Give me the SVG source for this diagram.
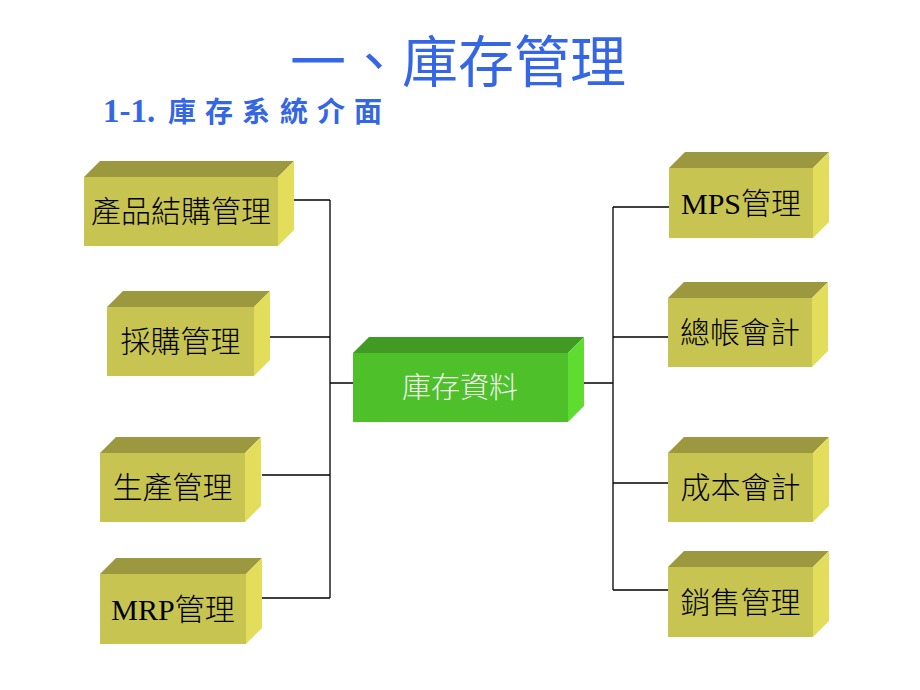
<svg xmlns="http://www.w3.org/2000/svg" width="920" height="690" viewBox="0 0 920 690">
<style>
.front{fill:#C8C452}
.top{fill:#9C983F}
.side{fill:#E2DE5C}
.gfront{fill:#4DC02A}
.gtop{fill:#409A24}
.gside{fill:#5EDC30}
.lbl{font-family:"Liberation Serif","Noto Sans CJK TC",serif;font-size:30px;font-weight:300;fill:#000;text-anchor:middle}
.clbl{font-family:"Noto Sans CJK TC","Liberation Sans",sans-serif;font-size:29px;font-weight:300;fill:#F2F4EE;text-anchor:middle}
.conn{stroke:#000;stroke-width:1.3;fill:none}
</style>
<rect width="920" height="690" fill="#fff"/>
<text x="290" y="82" font-family="'Noto Sans CJK TC','Liberation Sans',sans-serif" font-size="56" fill="#3566E4">一、庫存管理</text>
<text y="122" fill="#3566E4" font-weight="bold"><tspan x="103" font-family="'Liberation Serif',serif" font-size="33">1-1.</tspan><tspan x="168 205 242 280 317 354" font-family="'Noto Sans CJK TC',sans-serif" font-size="28">庫存系統介面</tspan></text>
<g id="connectors" class="conn">
<path d="M286 200H330M268 337H330M262 475H330M262 598H330M330 200V598M330 383H353"/>
<path d="M575 383H613M613 207V590M613 207H669M613 337H668M613 483H668M613 590H668"/>
</g>
<g id="n1">
<polygon class="top" points="84,177 100,161 294,161 278,177"/>
<polygon class="side" points="278,177 294,161 294,230 278,246"/>
<rect class="front" x="84" y="177" width="194" height="69"/>
<text class="lbl" x="181" y="222">產品結購管理</text>
</g>
<g id="n2">
<polygon class="top" points="107,307 123,291 270,291 254,307"/>
<polygon class="side" points="254,307 270,291 270,360 254,376"/>
<rect class="front" x="107" y="307" width="147" height="69"/>
<text class="lbl" x="180.5" y="352">採購管理</text>
</g>
<g id="n3">
<polygon class="top" points="100,453 116,437 261,437 245,453"/>
<polygon class="side" points="245,453 261,437 261,506 245,522"/>
<rect class="front" x="100" y="453" width="145" height="69"/>
<text class="lbl" x="172.5" y="498">生產管理</text>
</g>
<g id="n4">
<polygon class="top" points="100,574 116,558 262,558 246,574"/>
<polygon class="side" points="246,574 262,558 262,628 246,644"/>
<rect class="front" x="100" y="574" width="146" height="70"/>
<text class="lbl" x="173" y="620">MRP管理</text>
</g>
<g id="center">
<polygon class="gtop" points="353,353 369,337 584,337 568,353"/>
<polygon class="gside" points="568,353 584,337 584,406 568,422"/>
<rect class="gfront" x="353" y="353" width="215" height="69"/>
<text class="clbl" x="460" y="398">庫存資料</text>
</g>
<g id="n5">
<polygon class="top" points="669,168 685,152 829,152 813,168"/>
<polygon class="side" points="813,168 829,152 829,222 813,238"/>
<rect class="front" x="669" y="168" width="144" height="70"/>
<text class="lbl" x="741" y="214">MPS管理</text>
</g>
<g id="n6">
<polygon class="top" points="668,298 684,282 828,282 812,298"/>
<polygon class="side" points="812,298 828,282 828,351 812,367"/>
<rect class="front" x="668" y="298" width="144" height="69"/>
<text class="lbl" x="740" y="343">總帳會計</text>
</g>
<g id="n7">
<polygon class="top" points="668,453 684,437 829,437 813,453"/>
<polygon class="side" points="813,453 829,437 829,506 813,522"/>
<rect class="front" x="668" y="453" width="145" height="69"/>
<text class="lbl" x="740.5" y="498">成本會計</text>
</g>
<g id="n8">
<polygon class="top" points="668,567 684,551 829,551 813,567"/>
<polygon class="side" points="813,567 829,551 829,621 813,637"/>
<rect class="front" x="668" y="567" width="145" height="70"/>
<text class="lbl" x="740.5" y="613">銷售管理</text>
</g>
</svg>
